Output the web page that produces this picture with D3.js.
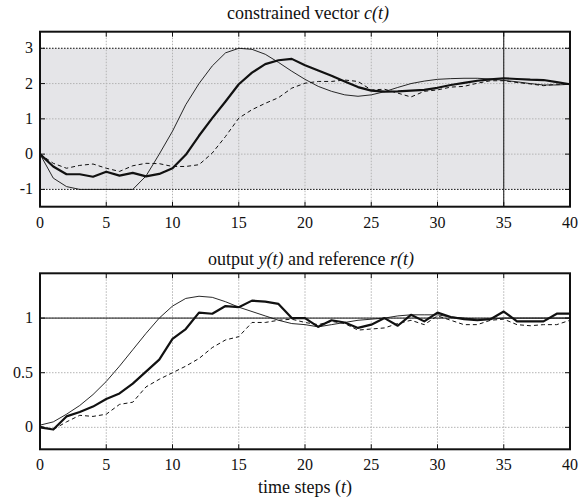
<!DOCTYPE html>
<html><head><meta charset="utf-8">
<script src="https://cdn.jsdelivr.net/npm/d3@7"></script>
<style>body{margin:0;background:#fff}svg{display:block}</style>
</head><body><svg id="c" width="581" height="500"></svg>
<script>
const t = d3.range(0, 41);
const xTicks = [0,5,10,15,20,25,30,35,40];
const topYTicks = [-1,0,1,2,3];
const botYTicks = [0,0.5,1];
const topYLabels = ["-1","0","1","2","3"];
const botYLabels = ["0","0.5","1"];
const constraintBounds = [-1, 3];
const markerTime = 35;
const reference = 1;

// top: constrained vector c(t)
const cThin = [0,-0.68,-0.92,-1,-1,-1,-1,-1,-0.62,0.0,0.65,1.4,2.0,2.5,2.87,3.0,2.97,2.83,2.6,2.35,2.12,1.92,1.78,1.68,1.64,1.68,1.77,1.89,2.0,2.07,2.12,2.14,2.15,2.15,2.13,2.09,2.05,2.0,1.96,1.96,1.98];
const cThick = [0,-0.35,-0.57,-0.57,-0.64,-0.5,-0.61,-0.53,-0.63,-0.56,-0.4,-0.02,0.52,1.02,1.49,1.98,2.31,2.55,2.66,2.7,2.52,2.37,2.22,2.06,1.9,1.8,1.77,1.78,1.8,1.82,1.88,1.96,2.02,2.08,2.12,2.15,2.13,2.11,2.1,2.04,1.98];
const cDash = [0,-0.26,-0.4,-0.32,-0.28,-0.4,-0.49,-0.33,-0.26,-0.27,-0.35,-0.35,-0.3,0.03,0.5,1.02,1.26,1.44,1.6,1.87,2.01,2.06,2.06,2.1,2.06,1.82,1.84,1.73,1.62,1.78,1.82,1.9,1.92,2.01,2.08,2.08,2.03,1.99,1.94,1.98,1.98];

// bottom: output y(t)
const yThin = [0.02,0.05,0.12,0.2,0.3,0.42,0.56,0.71,0.86,1.0,1.11,1.18,1.2,1.19,1.15,1.1,1.06,1.02,0.98,0.95,0.94,0.92,0.94,0.96,0.98,0.99,1.0,1.02,1.03,1.03,1.03,1.01,1.0,0.99,0.99,1.0,1.0,1.0,1.0,1.0,1.0];
const yThick = [0,-0.02,0.1,0.14,0.19,0.26,0.31,0.4,0.51,0.62,0.81,0.9,1.05,1.04,1.11,1.1,1.16,1.15,1.13,1.0,1.0,0.92,0.98,0.96,0.91,0.94,1.0,0.93,1.03,0.97,1.05,1.01,0.99,0.98,0.99,1.06,0.97,0.97,0.97,1.04,1.04];
const yDash = [0.01,-0.02,0.05,0.11,0.1,0.12,0.21,0.23,0.37,0.44,0.5,0.56,0.63,0.73,0.8,0.83,0.96,0.96,0.98,0.99,0.96,0.94,0.97,0.95,0.89,0.9,0.91,0.95,0.98,0.94,1.02,0.98,0.94,0.94,0.98,0.99,0.94,0.93,0.94,0.94,0.98];

const FONT = "'Liberation Serif', 'Times New Roman', Times, serif";
const svg = d3.select("#c");
const L = 40, R = 570;
const x = d3.scaleLinear().domain([0,40]).range([L,R]);

function panel(top, bottom, ydom, yticks, ylabels, drawExtras, series){
  const y = d3.scaleLinear().domain(ydom).range([bottom, top]);
  const g = svg.append("g");
  drawExtras.pre && drawExtras.pre(g, y);
  g.selectAll(".vg").data(xTicks.slice(1,-1)).enter().append("line")
    .attr("x1",d=>x(d)).attr("x2",d=>x(d)).attr("y1",top).attr("y2",bottom)
    .attr("stroke","#b4b4b4").attr("stroke-width",1).attr("stroke-dasharray","1.5,1.5");
  g.selectAll(".hg").data(yticks).enter().append("line")
    .attr("x1",L).attr("x2",R).attr("y1",d=>y(d)).attr("y2",d=>y(d))
    .attr("stroke","#b4b4b4").attr("stroke-width",1).attr("stroke-dasharray","1.5,1.5");
  drawExtras.mid && drawExtras.mid(g, y);
  const line = d3.line().x((d,i)=>x(t[i])).y(d=>y(d));
  series.forEach(s=>{
    g.append("path").datum(s.data).attr("d",line).attr("fill","none")
      .attr("stroke","#111").attr("stroke-width",s.w).attr("stroke-linejoin","round")
      .attr("stroke-dasharray",s.dash||null);
  });
  xTicks.forEach(v=>{
    g.append("line").attr("x1",x(v)).attr("x2",x(v)).attr("y1",bottom).attr("y2",bottom-5).attr("stroke","#111");
    g.append("line").attr("x1",x(v)).attr("x2",x(v)).attr("y1",top).attr("y2",top+5).attr("stroke","#111");
  });
  yticks.forEach(v=>{
    g.append("line").attr("x1",L).attr("x2",L+5).attr("y1",y(v)).attr("y2",y(v)).attr("stroke","#111");
    g.append("line").attr("x1",R).attr("x2",R-5).attr("y1",y(v)).attr("y2",y(v)).attr("stroke","#111");
  });
  g.append("rect").attr("x",L).attr("y",top).attr("width",R-L).attr("height",bottom-top)
    .attr("fill","none").attr("stroke","#111").attr("stroke-width",2);
  g.selectAll(".xl").data(xTicks).enter().append("text")
    .attr("x",d=>x(d)).attr("y",bottom+21).attr("text-anchor","middle")
    .attr("font-family",FONT).attr("font-size",16).attr("fill","#111").text(d=>d);
  g.selectAll(".yl").data(yticks).enter().append("text")
    .attr("x",L-7).attr("y",d=>y(d)+5).attr("text-anchor","end")
    .attr("font-family",FONT).attr("font-size",16).attr("fill","#111").text((d,i)=>ylabels[i]);
  return y;
}

function richText(xc, yb, parts){
  const tx = svg.append("text").attr("x",xc).attr("y",yb).attr("text-anchor","middle")
    .attr("font-family",FONT).attr("font-size",18).attr("fill","#111");
  parts.forEach(p=>tx.append("tspan").attr("font-style",p[1]?"italic":"normal").text(p[0]));
}

panel(31.7, 206.7, [-1.49,3.47], topYTicks, topYLabels, {
  pre:(g,y)=>{
    g.append("rect").attr("x",L).attr("width",R-L).attr("y",y(constraintBounds[1])).attr("height",y(constraintBounds[0])-y(constraintBounds[1])).attr("fill","#e5e5e8");
  },
  mid:(g,y)=>{
    constraintBounds.forEach(b=>g.append("line").attr("x1",L).attr("x2",R).attr("y1",y(b)).attr("y2",y(b))
      .attr("stroke","#222").attr("stroke-width",1).attr("stroke-dasharray","1.5,1.5"));
    g.append("line").attr("x1",x(markerTime)).attr("x2",x(markerTime)).attr("y1",31.7).attr("y2",206.7).attr("stroke","#111").attr("stroke-width",1);
  }
}, [{data:cThin,w:0.9},{data:cDash,w:1,dash:"4,3"},{data:cThick,w:2.2}]);

panel(273.3, 449.3, [-0.201,1.41], botYTicks, botYLabels, {
  mid:(g,y)=>{
    g.append("line").attr("x1",L).attr("x2",R).attr("y1",y(reference)).attr("y2",y(reference)).attr("stroke","#111").attr("stroke-width",1);
  }
}, [{data:yThin,w:0.9},{data:yDash,w:1,dash:"4,3"},{data:yThick,w:2.2}]);

richText(308, 19, [["constrained vector ",false],["c(t)",true]]);
richText(311, 265, [["output ",false],["y(t)",true],[" and reference ",false],["r(t)",true]]);
richText(305, 493, [["time steps (",false],["t",true],[")",false]]);
</script></body></html>
